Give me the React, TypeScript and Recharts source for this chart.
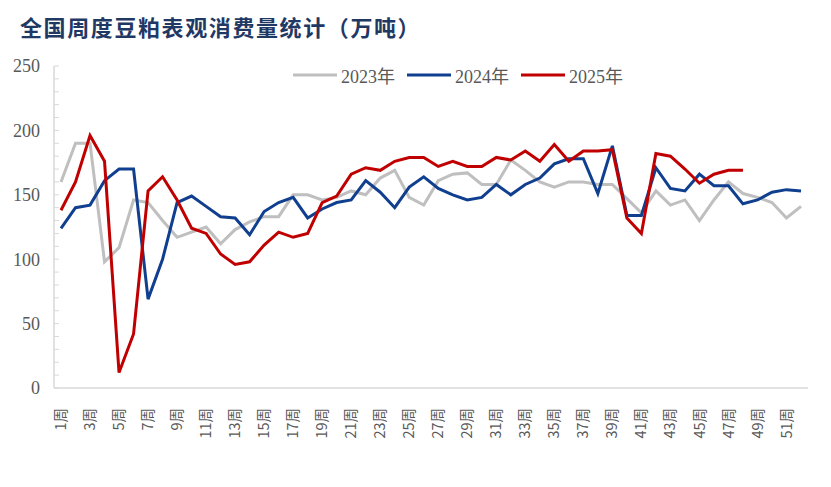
import { Legend, Line, LineChart, XAxis, YAxis } from "recharts";

const title = "全国周度豆粕表观消费量统计（万吨）";

const weeks = Array.from({ length: 52 }, (_, i) => `${i + 1}周`);

const yTicks = [0, 10, 20, 30, 40, 50, 60, 70, 80, 90, 100, 110, 120, 130, 140, 150, 160, 170, 180, 190, 200, 210, 220, 230, 240, 250];

const s2023 = [160, 190, 190, 98, 109, 146, 144, 130, 117, 121, 125, 112, 123, 129, 133, 133, 150, 150, 146, 148, 153, 150, 163, 169, 148, 142, 161, 166, 167, 158, 158, 177, 169, 160, 156, 160, 160, 158, 158, 147, 136, 153, 142, 146, 130, 146, 160, 151, 148, 144, 132, 141];

const s2024 = [124, 140, 142, 161, 170, 170, 69, 100, 144, 149, 141, 133, 132, 119, 137, 144, 148, 132, 139, 144, 146, 161, 152, 140, 156, 164, 155, 150, 146, 148, 158, 150, 158, 163, 174, 178, 178, 151, 188, 134, 134, 171, 155, 153, 166, 157, 157, 143, 146, 152, 154, 153];

const s2025 = [138, 160, 196, 176, 12, 42, 153, 164, 146, 124, 120, 104, 96, 98, 111, 121, 117, 120, 144, 149, 166, 171, 169, 176, 179, 179, 172, 176, 172, 172, 179, 177, 184, 176, 189, 176, 184, 184, 185, 132, 120, 182, 180, 170, 159, 166, 169, 169];

const series = [
  { key: "y2023", name: "2023年", color: "#BFBFBF" },
  { key: "y2024", name: "2024年", color: "#103F8F" },
  { key: "y2025", name: "2025年", color: "#C00000" },
];

const data = weeks.map((w, i) => ({
  week: w,
  y2023: s2023[i],
  y2024: s2024[i],
  y2025: i < s2025.length ? s2025[i] : null,
}));

const serif = "'Liberation Serif', 'Times New Roman', 'Noto Sans CJK SC', serif";

const YTick = ({ x, y, payload }: any) => (
  <g>
    <line x1={x + 14} x2={x + 19} y1={y} y2={y} stroke="#D9D9D9" strokeWidth={1} />
    {payload.value % 50 === 0 && (
      <text x={x} y={y} dy="0.35em" textAnchor="end" fill="#595959" fontSize={18} fontFamily={serif}>
        {payload.value}
      </text>
    )}
  </g>
);

const XTick = ({ x, y, payload }: any) => (
  <text
    transform={`translate(${x},${y + 12}) rotate(-90)`}
    dy="0.35em"
    textAnchor="end"
    fill="#595959"
    fontSize={14.5}
    fontFamily="'Noto Sans CJK SC', sans-serif"
  >
    {payload.value}
  </text>
);

const RenderLegend = () => (
  <div style={{ display: "flex", alignItems: "center", fontFamily: serif, fontSize: 18, color: "#595959", whiteSpace: "nowrap" }}>
    {series.map((s) => (
      <div key={s.key} style={{ display: "flex", alignItems: "center", marginRight: 12 }}>
        <svg width={44} height={6} style={{ marginRight: 4 }}>
          <line x1={0} x2={44} y1={3} y2={3} stroke={s.color} strokeWidth={3} />
        </svg>
        <span>{s.name}</span>
      </div>
    ))}
  </div>
);

export default function App() {
  return (
    <div style={{ position: "absolute", left: 0, top: 0, width: 831, height: 487, background: "#fff" }}>
      <div
        style={{
          position: "absolute",
          left: 20,
          top: 13,
          fontSize: 22,
          lineHeight: "26px",
          letterSpacing: 1.6,
          fontWeight: 700,
          color: "#1F3864",
          fontFamily: "'Noto Sans CJK SC', sans-serif",
          whiteSpace: "nowrap",
        }}
      >
        {title}
      </div>
      <LineChart width={831} height={487} data={data} margin={{ top: 66, right: 23, bottom: 0, left: 0 }}>
        <XAxis
          dataKey="week"
          interval={1}
          height={99}
          tickLine={false}
          axisLine={{ stroke: "#D9D9D9", strokeWidth: 1.5 }}
          padding={{ left: 7, right: 7 }}
          tick={<XTick />}
        />
        <YAxis
          domain={[0, 250]}
          ticks={yTicks}
          interval={0}
          width={54}
          tickSize={0}
          tickMargin={14}
          tickLine={false}
          axisLine={{ stroke: "#D9D9D9", strokeWidth: 1.5 }}
          tick={<YTick />}
        />
        <Legend
          verticalAlign="middle"
          align="center"
          layout="horizontal"
          wrapperStyle={{ top: 62, left: 293, width: 400 }}
          content={<RenderLegend />}
        />
        {series.map((s) => (
          <Line
            key={s.key}
            type="linear"
            dataKey={s.key}
            name={s.name}
            stroke={s.color}
            strokeWidth={3}
            dot={false}
            isAnimationActive={false}
          />
        ))}
      </LineChart>
    </div>
  );
}
